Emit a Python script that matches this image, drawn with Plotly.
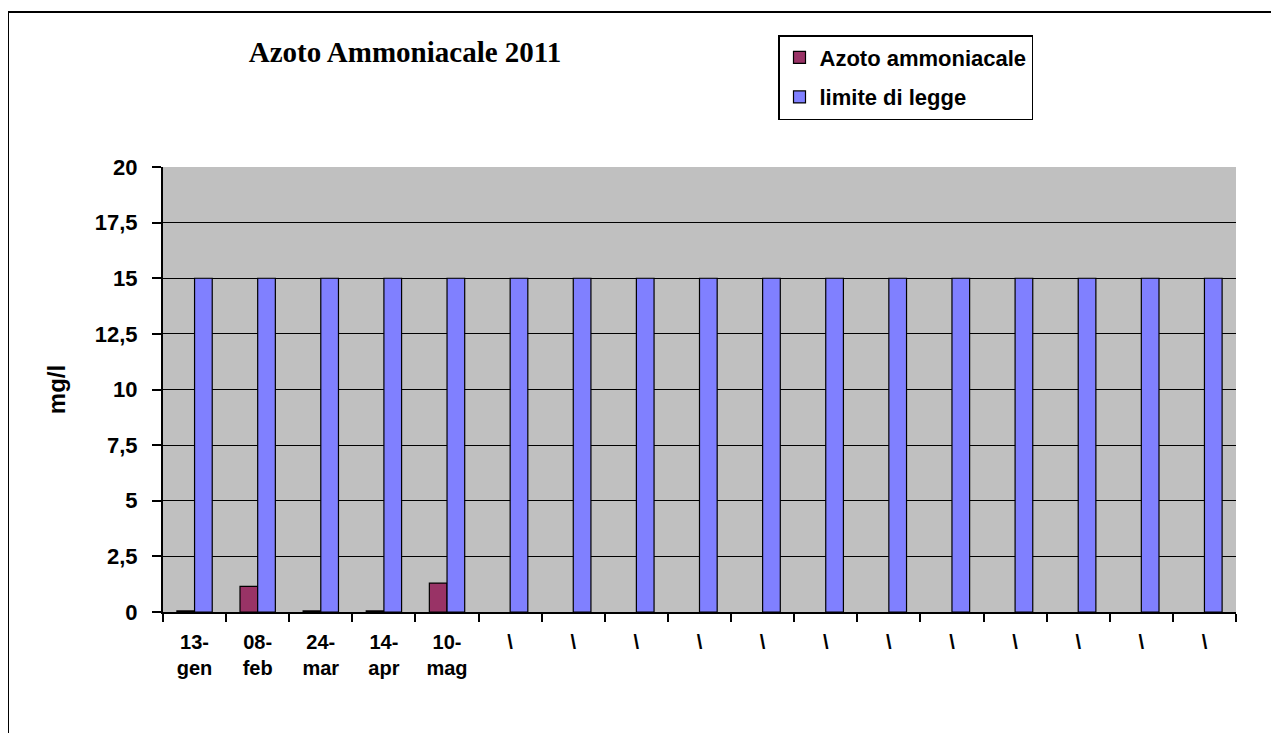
import plotly.graph_objects as go

# dati
categorie = ["13-<br>gen", "08-<br>feb", "24-<br>mar", "14-<br>apr", "10-<br>mag",
             "\\", "\\", "\\", "\\", "\\", "\\", "\\", "\\", "\\", "\\", "\\", "\\"]
azoto = [0.05, 1.15, 0.05, 0.05, 1.3] + [None] * 12
limite = [15] * 17
y_ticks = [0, 2.5, 5, 7.5, 10, 12.5, 15, 17.5, 20]
y_labels = ["0", "2,5", "5", "7,5", "10", "12,5", "15", "17,5", "20"]

idx = list(range(len(categorie)))
bordi = [i - 0.5 for i in range(len(categorie) + 1)]

# la pagina ha un margine di 8px attorno alla figura
W, H = 1271, 725
ML, MR, MT, MB = 155, 43, 159, 121
PW, PH = W - ML - MR, H - MT - MB

fig = go.Figure()

fig.add_trace(go.Bar(
    x=idx, y=azoto, name="Azoto ammoniacale", legendgroup="a",
    marker=dict(color="#993366", line=dict(color="black", width=1.2)),
))
fig.add_trace(go.Bar(
    x=idx, y=limite, name="limite di legge", legendgroup="b",
    marker=dict(color="#8080FF", line=dict(color="black", width=1.2)),
))
# traccia invisibile per l'asse delle etichette
fig.add_trace(go.Scatter(
    x=idx, y=[None] * len(idx), xaxis="x2", showlegend=False,
    hoverinfo="skip", mode="markers",
))

fig.update_layout(
    width=W, height=H,
    margin=dict(l=ML, r=MR, t=MT, b=MB),
    paper_bgcolor="white",
    plot_bgcolor="#C0C0C0",
    barmode="group",
    bargap=0.44,
    bargroupgap=0,
    font=dict(family="Liberation Sans, Arial", color="black"),
    title=dict(
        text="<b>Azoto Ammoniacale 2011</b>",
        font=dict(family="Liberation Serif, Times New Roman", size=29, color="black"),
        x=(405 - 8) / W, xanchor="center", y=1 - (52 - 8) / H, yanchor="middle",
    ),
    legend=dict(
        x=(778 - 8 - ML) / PW, y=(H - MB - (35 - 8)) / PH, xanchor="left", yanchor="top",
        bgcolor="white", bordercolor="black", borderwidth=1.5,
        font=dict(size=22, family="Liberation Sans, Arial", weight="bold"),
        itemwidth=30, tracegroupgap=8,
    ),
    showlegend=True,
    xaxis=dict(
        range=[-0.5, 16.5],
        tickvals=bordi, ticktext=[""] * len(bordi),
        ticks="outside", ticklen=8, tickcolor="black", tickwidth=1.5,
        showline=True, linecolor="black", linewidth=2,
        showgrid=False, zeroline=False,
    ),
    xaxis2=dict(
        overlaying="x", anchor="y", side="bottom",
        range=[-0.5, 16.5],
        tickvals=idx, ticktext=categorie,
        ticks="", showline=False, showgrid=False, zeroline=False,
        tickfont=dict(size=20, family="Liberation Sans, Arial", weight="bold"),
        ticklabelstandoff=16,
    ),
    yaxis=dict(
        range=[0, 20],
        tickvals=y_ticks, ticktext=y_labels,
        ticks="outside", ticklen=9, tickcolor="black", tickwidth=1.5,
        showline=True, linecolor="black", linewidth=2,
        showgrid=True, gridcolor="black", gridwidth=1,
        zeroline=False,
        tickfont=dict(size=22, family="Liberation Sans, Arial", weight="bold"),
        ticklabelstandoff=10,
        title=dict(text="<b>mg/l</b>", font=dict(size=24), standoff=22),
    ),
)

# cornice del grafico
fig.add_shape(type="rect", xref="paper", yref="paper",
              x0=-ML / PW, x1=1.2, y0=-0.5, y1=(H - MB - 4) / PH,
              line=dict(color="black", width=2), layer="below")

fig.write_html("out.html")
